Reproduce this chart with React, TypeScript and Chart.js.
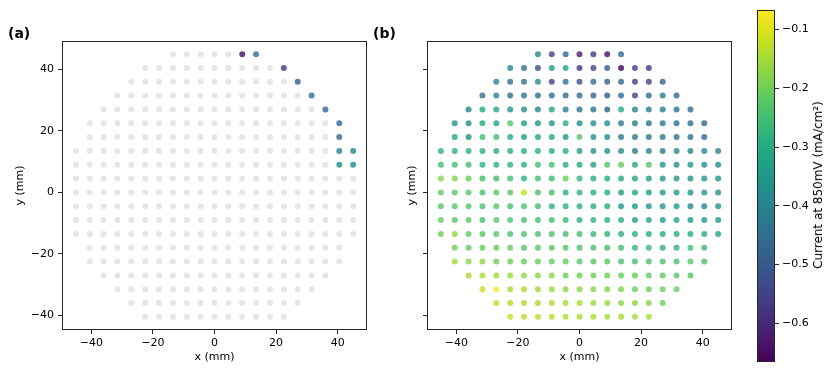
import React, { useEffect, useRef } from "react";
import { Chart, registerables } from "chart.js";

Chart.register(...registerables);

// ---------- data ----------
const gridX = [-45, -40.5, -36, -31.5, -27, -22.5, -18, -13.5, -9, -4.5, 0, 4.5, 9, 13.5, 18, 22.5, 27, 31.5, 36, 40.5, 45];
const rowY = [45, 40.5, 36, 31.5, 27, 22.5, 18, 13.5, 9, 4.5, 0, -4.5, -9, -13.5, -18, -22.5, -27, -31.5, -36, -40.5];

// current at 850 mV (mA/cm²), one array per row (top to bottom), left to right, centred on the grid
const rowP450 = [-0.39, -0.54, -0.47, -0.62, -0.57, -0.64, -0.45];
const rowP405 = [-0.39, -0.44, -0.52, -0.33, -0.315, -0.58, -0.55, -0.5, -0.666, -0.55, -0.57];
const rowP360 = [-0.4, -0.45, -0.45, -0.39, -0.54, -0.45, -0.52, -0.45, -0.49, -0.46, -0.56, -0.56, -0.49];
const rowP315 = [-0.44, -0.4, -0.44, -0.44, -0.45, -0.45, -0.46, -0.47, -0.48, -0.49, -0.46, -0.54, -0.45, -0.41, -0.45];
const rowP270 = [-0.39, -0.3, -0.315, -0.36, -0.375, -0.39, -0.315, -0.42, -0.44, -0.44, -0.48, -0.3, -0.4, -0.42, -0.42, -0.44, -0.47];
const rowP225 = [-0.36, -0.375, -0.3, -0.315, -0.225, -0.33, -0.36, -0.36, -0.3, -0.375, -0.39, -0.375, -0.42, -0.42, -0.44, -0.42, -0.44, -0.44, -0.47];
const rowP180 = [-0.315, -0.36, -0.24, -0.25, -0.3, -0.33, -0.315, -0.315, -0.345, -0.225, -0.36, -0.375, -0.42, -0.42, -0.42, -0.42, -0.44, -0.44, -0.47];
const rowP135 = [-0.28, -0.29, -0.28, -0.29, -0.29, -0.29, -0.29, -0.29, -0.3, -0.3, -0.345, -0.36, -0.36, -0.375, -0.42, -0.41, -0.42, -0.39, -0.4, -0.39, -0.4];
const rowP090 = [-0.25, -0.25, -0.25, -0.28, -0.28, -0.28, -0.28, -0.25, -0.25, -0.3, -0.3, -0.33, -0.225, -0.21, -0.3, -0.225, -0.36, -0.36, -0.36, -0.375, -0.375];
const rowP045 = [-0.18, -0.18, -0.2, -0.25, -0.25, -0.25, -0.28, -0.25, -0.265, -0.2, -0.28, -0.3, -0.3, -0.3, -0.315, -0.33, -0.345, -0.345, -0.36, -0.345, -0.36];
const rowZ000 = [-0.21, -0.225, -0.225, -0.24, -0.225, -0.225, -0.13, -0.24, -0.25, -0.28, -0.28, -0.29, -0.3, -0.33, -0.315, -0.33, -0.345, -0.345, -0.345, -0.345, -0.36];
const rowM045 = [-0.225, -0.225, -0.225, -0.24, -0.225, -0.24, -0.24, -0.25, -0.28, -0.28, -0.29, -0.29, -0.3, -0.345, -0.33, -0.345, -0.345, -0.345, -0.39, -0.39, -0.36];
const rowM090 = [-0.21, -0.225, -0.225, -0.24, -0.225, -0.24, -0.24, -0.25, -0.25, -0.265, -0.28, -0.28, -0.29, -0.3, -0.33, -0.315, -0.345, -0.315, -0.345, -0.36, -0.345];
const rowM135 = [-0.2, -0.17, -0.21, -0.225, -0.225, -0.24, -0.24, -0.24, -0.24, -0.25, -0.25, -0.265, -0.28, -0.29, -0.29, -0.3, -0.3, -0.29, -0.3, -0.3, -0.315];
const rowM180 = [-0.2, -0.21, -0.21, -0.21, -0.21, -0.225, -0.225, -0.225, -0.225, -0.24, -0.24, -0.25, -0.25, -0.265, -0.265, -0.28, -0.28, -0.25, -0.265];
const rowM225 = [-0.15, -0.17, -0.17, -0.2, -0.2, -0.21, -0.21, -0.21, -0.21, -0.225, -0.225, -0.225, -0.24, -0.24, -0.24, -0.24, -0.24, -0.225, -0.24];
const rowM270 = [-0.14, -0.145, -0.15, -0.16, -0.17, -0.17, -0.18, -0.2, -0.2, -0.2, -0.2, -0.21, -0.21, -0.21, -0.21, -0.225, -0.225];
const rowM315 = [-0.12, -0.066, -0.145, -0.145, -0.15, -0.16, -0.17, -0.17, -0.17, -0.18, -0.18, -0.2, -0.2, -0.2, -0.21];
const rowM360 = [-0.13, -0.14, -0.145, -0.145, -0.145, -0.15, -0.15, -0.16, -0.16, -0.17, -0.17, -0.18, -0.2];
const rowM405 = [-0.12, -0.13, -0.13, -0.13, -0.14, -0.14, -0.14, -0.145, -0.145, -0.145, -0.145];

const rowValues = [rowP450, rowP405, rowP360, rowP315, rowP270, rowP225, rowP180, rowP135, rowP090, rowP045, rowZ000,
  rowM045, rowM090, rowM135, rowM180, rowM225, rowM270, rowM315, rowM360, rowM405];

// highlighted sites in panel (a)
const highlightX = [9, 13.5, 22.5, 27, 31.5, 36, 40.5, 40.5, 40.5, 45, 40.5, 45];
const highlightY = [45, 45, 40.5, 36, 31.5, 27, 22.5, 18, 13.5, 13.5, 9, 9];

const xTicks = [-40, -20, 0, 20, 40];
const yTicks = [-40, -20, 0, 20, 40];
const cbarTicks = [-0.6, -0.5, -0.4, -0.3, -0.2, -0.1];
const cMin = -0.666;
const cMax = -0.066;
const xRange = [-49.5, 49.5];
const yRange = [-44.775, 49.275];
const cbarLabel = "Current at 850mV (mA/cm²)";

// ---------- colour map ----------
const VIRIDIS = [
  [68, 1, 84], [72, 24, 106], [71, 45, 123], [66, 64, 134], [59, 82, 139], [51, 99, 141], [44, 114, 142], [38, 130, 142],
  [33, 145, 140], [31, 160, 136], [40, 174, 128], [63, 188, 115], [94, 201, 98], [132, 212, 75], [173, 220, 48], [216, 226, 25], [253, 231, 37],
];
function viridisRGB(t: number) {
  const tt = Math.max(0, Math.min(1, t)) * (VIRIDIS.length - 1);
  const i = Math.min(VIRIDIS.length - 2, Math.floor(tt));
  const f = tt - i;
  const a = VIRIDIS[i], b = VIRIDIS[i + 1];
  return [0, 1, 2].map((k) => Math.round(a[k] + (b[k] - a[k]) * f));
}
function colorFor(v: number, alpha = 0.8) {
  const [r, g, b] = viridisRGB((v - cMin) / (cMax - cMin));
  return `rgba(${r},${g},${b},${alpha})`;
}

type Pt = { x: number; y: number; v: number };
const allPoints: Pt[] = [];
rowValues.forEach((vals, i) => {
  const start = (gridX.length - vals.length) / 2;
  vals.forEach((v, j) => allPoints.push({ x: gridX[start + j], y: rowY[i], v }));
});
const isHighlight = (p: Pt) => highlightX.some((hx, k) => hx === p.x && highlightY[k] === p.y);
const highlightPts = highlightX.map((hx, k) => allPoints.find((p) => p.x === hx && p.y === highlightY[k])!);
const greyPts = allPoints.filter((p) => !isHighlight(p));

// ---------- helpers ----------
const FONT = "'DejaVu Sans', sans-serif";
const fmt = (v: number) => (v < 0 ? "\u2212" : "") + String(Math.abs(Math.round(v * 100) / 100));

const framePlugin = {
  id: "frame",
  afterDraw(chart: any) {
    const { ctx, chartArea } = chart;
    ctx.save();
    ctx.strokeStyle = "#262626";
    ctx.lineWidth = 1;
    ctx.strokeRect(Math.round(chartArea.left) + 0.5, Math.round(chartArea.top) + 0.5,
      Math.round(chartArea.right - chartArea.left) - 1, Math.round(chartArea.bottom - chartArea.top) - 1);
    ctx.restore();
  },
};

function scatterOptions(showYLabels: boolean, yAxisWidth: number, padLeft: number, padRight: number) {
  const tickFont = { family: FONT, size: 11 };
  const gridCfg = { display: true, drawOnChartArea: false, drawTicks: true, tickLength: 4, tickColor: "#262626", tickWidth: 1 };
  return {
    responsive: false,
    animation: false as const,
    devicePixelRatio: 1,
    layout: { padding: { left: padLeft, right: padRight, top: 41, bottom: 4 } },
    plugins: { legend: { display: false }, tooltip: { enabled: false }, title: { display: false } },
    scales: {
      x: {
        type: "linear" as const,
        min: xRange[0],
        max: xRange[1],
        afterBuildTicks: (s: any) => { s.ticks = xTicks.map((v) => ({ value: v })); },
        afterFit: (s: any) => { s.height = 38; },
        ticks: { callback: (v: any) => fmt(Number(v)), font: tickFont, color: "#000", padding: 3, maxRotation: 0, autoSkip: false },
        grid: gridCfg,
        border: { display: false },
        title: { display: true, text: "x (mm)", font: tickFont, color: "#000", padding: { top: 0, bottom: 4 } },
      },
      y: {
        type: "linear" as const,
        min: yRange[0],
        max: yRange[1],
        afterBuildTicks: (s: any) => { s.ticks = yTicks.map((v) => ({ value: v })); },
        afterFit: (s: any) => { s.width = yAxisWidth; },
        ticks: { callback: (v: any) => (showYLabels ? fmt(Number(v)) : ""), font: tickFont, color: "#000", padding: 4, autoSkip: false },
        grid: gridCfg,
        border: { display: false },
        title: { display: true, text: "y (mm)", font: tickFont, color: "#000", padding: { top: 4, bottom: 0 } },
      },
    },
  };
}

function useChart(ref: React.RefObject<HTMLCanvasElement>, make: (c: HTMLCanvasElement) => Chart) {
  useEffect(() => {
    if (!ref.current) return;
    const ch = make(ref.current);
    return () => ch.destroy();
  }, []);
}

export default function App() {
  const aRef = useRef<HTMLCanvasElement>(null);
  const bRef = useRef<HTMLCanvasElement>(null);
  const cRef = useRef<HTMLCanvasElement>(null);

  useChart(aRef, (c) =>
    new Chart(c, {
      type: "scatter",
      data: {
        datasets: [
          {
            data: highlightPts.map((p) => ({ x: p.x, y: p.y })),
            pointBackgroundColor: highlightPts.map((p) => colorFor(p.v)),
            pointBorderWidth: 0,
            pointRadius: 3,
            pointHoverRadius: 3,
          },
          {
            data: greyPts.map((p) => ({ x: p.x, y: p.y })),
            pointBackgroundColor: "#e6e6e6",
            pointBorderWidth: 0,
            pointRadius: 3,
            pointHoverRadius: 3,
          },
        ],
      },
      options: scatterOptions(true, 52, 10, 13) as any,
      plugins: [framePlugin],
    })
  );

  useChart(bRef, (c) =>
    new Chart(c, {
      type: "scatter",
      data: {
        datasets: [
          {
            data: allPoints.map((p) => ({ x: p.x, y: p.y })),
            pointBackgroundColor: allPoints.map((p) => colorFor(p.v)),
            pointBorderWidth: 0,
            pointRadius: 3,
            pointHoverRadius: 3,
          },
        ],
      },
      options: scatterOptions(false, 25, 22, 8) as any,
      plugins: [framePlugin],
    })
  );

  useChart(cRef, (c) =>
    new Chart(c, {
      type: "bar",
      data: {
        labels: [""],
        datasets: [
          {
            data: [[cMin, cMax]] as any,
            barPercentage: 1,
            categoryPercentage: 1,
            borderWidth: 0,
            backgroundColor: (ctx: any) => {
              const ca = ctx.chart.chartArea;
              if (!ca) return "transparent";
              const g = ctx.chart.ctx.createLinearGradient(0, ca.bottom, 0, ca.top);
              VIRIDIS.forEach((rgb, i) => g.addColorStop(i / (VIRIDIS.length - 1), `rgb(${rgb[0]},${rgb[1]},${rgb[2]})`));
              return g;
            },
          },
        ],
      },
      options: {
        responsive: false,
        animation: false,
        devicePixelRatio: 1,
        layout: { padding: { left: 17, right: 0, top: 8, bottom: 10 } },
        plugins: { legend: { display: false }, tooltip: { enabled: false } },
        scales: {
          x: { display: false },
          y: {
            position: "right",
            min: cMin,
            max: cMax,
            afterBuildTicks: (s: any) => { s.ticks = cbarTicks.map((v) => ({ value: v })); },
            afterFit: (s: any) => { s.width = 56; },
            ticks: { callback: (v: any) => fmt(Number(v)), font: { family: FONT, size: 11 }, color: "#000", padding: 3, autoSkip: false },
            grid: { display: true, drawOnChartArea: false, drawTicks: true, tickLength: 4, tickColor: "#262626" },
            border: { display: false },
          },
        },
      } as any,
      plugins: [framePlugin],
    })
  );

  const label: React.CSSProperties = { position: "absolute", fontFamily: FONT, fontWeight: "bold", fontSize: 14, lineHeight: "14px", color: "#000" };

  return (
    <div style={{ position: "fixed", left: 0, top: 0, width: 831, height: 372, background: "#fff", overflow: "hidden" }}>
      <canvas ref={aRef} width={380} height={372} style={{ position: "absolute", left: 0, top: 0, width: 380, height: 372 }} />
      <canvas ref={bRef} width={360} height={372} style={{ position: "absolute", left: 380, top: 0, width: 360, height: 372 }} />
      <canvas ref={cRef} width={91} height={372} style={{ position: "absolute", left: 740, top: 0, width: 91, height: 372 }} />
      <div style={{ ...label, left: 8, top: 26 }}>(a)</div>
      <div style={{ ...label, left: 373, top: 26 }}>(b)</div>
      <div
        style={{
          position: "absolute",
          left: 818,
          top: 185,
          transform: "translate(-50%, -50%) rotate(-90deg)",
          whiteSpace: "nowrap",
          fontFamily: FONT,
          fontSize: 12,
          lineHeight: "14px",
          color: "#000",
        }}
      >
        {cbarLabel}
      </div>
    </div>
  );
}
